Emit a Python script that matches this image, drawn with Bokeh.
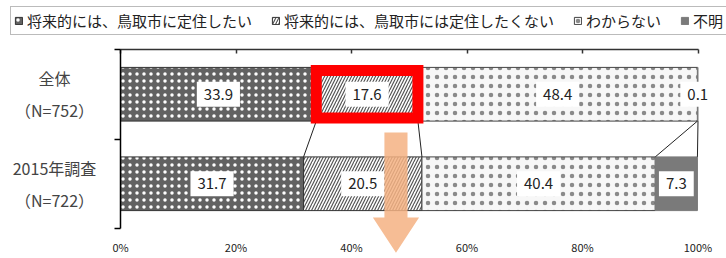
import numpy as np
from bokeh.plotting import figure
from bokeh.models import (ColumnDataSource, Range1d, LinearAxis, FixedTicker,
                          Legend, LegendItem)
from bokeh.core.properties import value
from bokeh.embed import file_html
from bokeh.resources import INLINE

# ---------------- data ----------------
categories = ["全体", "2015年調査"]
sample_sizes = ["（N=752）", "（N=722）"]
series_names = ["将来的には、鳥取市に定住したい",
                "将来的には、鳥取市には定住したくない",
                "わからない",
                "不明"]
settle = [33.9, 31.7]
not_settle = [17.6, 20.5]
unknown = [48.4, 40.4]
no_answer = [0.1, 7.3]
x_ticks = [0, 20, 40, 60, 80, 100]
x_tick_labels = ["0%", "20%", "40%", "60%", "80%", "100%"]
highlight_series = 1          # the 17.6 segment of 全体 is highlighted
highlight_category = 0
arrow_x = 47.7                # where the orange arrow points down

FONT = "Noto Sans CJK JP"

# ---------------- layout calibration (pixels) ----------------
W, H = 726, 258
PX_X0, PX_X100 = 120, 697.5      # x = 0 % and 100 %
PX_YTOP, PX_YBOT = 49, 228       # top / bottom of category band
n_cat = len(categories)
sx = (PX_X100 - PX_X0) / 100.0
sy = (PX_YBOT - PX_YTOP) / n_cat
x_range = Range1d(-PX_X0 / sx, (W - PX_X0) / sx)
y_range = Range1d(-(H - PX_YBOT) / sy, n_cat + PX_YTOP / sy)

y_vals = [n_cat - i - 0.5 for i in range(n_cat)]

p = figure(width=W, height=H, x_range=x_range, y_range=y_range,
           x_axis_type=None, y_axis_type=None, output_backend="svg",
           toolbar_location=None, min_border=0)
p.outline_line_color = None
p.background_fill_color = "white"
p.border_fill_color = "white"

stack = np.array([settle, not_settle, unknown, no_answer])
rights = np.cumsum(stack, axis=0)
lefts = rights - stack

styles = [
    dict(fill_color="#626262", hatch_pattern=".", hatch_color="white",
         hatch_scale=7, hatch_weight=1.5, line_color="#333333"),
    dict(fill_color="white", hatch_pattern="/", hatch_color="#555555",
         hatch_scale=6, hatch_weight=1.2, line_color="#333333"),
    dict(fill_color="#f7f7f7", hatch_pattern=".", hatch_color="#8a8a8a",
         hatch_scale=9, hatch_weight=0.9, line_color="#444444"),
    dict(fill_color="#7a7a7a", line_color="#7a7a7a"),
]

renderers = []
for k in range(len(series_names)):
    src = ColumnDataSource(dict(y=y_vals, left=lefts[k], right=rights[k]))
    r = p.hbar(y="y", left="left", right="right", height=0.6, source=src,
               line_width=1, **styles[k])
    renderers.append(r)

# series connector lines
half = 0.3
seg = ColumnDataSource(dict(x0=rights[:, 0], y0=[y_vals[0] - half] * len(series_names),
                            x1=rights[:, 1], y1=[y_vals[1] + half] * len(series_names)))
p.segment(x0="x0", y0="y0", x1="x1", y1="y1", source=seg, line_color="#222222", line_width=1)

# value labels
lab = ColumnDataSource(dict(
    x=((lefts + rights) / 2).ravel(),
    y=np.tile(y_vals, len(series_names)),
    text=[f"{v:.1f}" for v in stack.ravel()]))
p.text(x="x", y="y", text="text", source=lab, text_align="center",
       text_baseline="middle", text_font=value(FONT), text_font_size="15px",
       text_color="#222222", background_fill_color="white", padding=7)

# red highlight box
hl = ColumnDataSource(dict(
    left=[lefts[highlight_series][highlight_category]],
    right=[rights[highlight_series][highlight_category]],
    bottom=[y_vals[highlight_category] - 0.265],
    top=[y_vals[highlight_category] + 0.265]))
p.quad(left="left", right="right", bottom="bottom", top="top", source=hl,
       fill_color=None, line_color="#ff0000", line_width=11, line_join="miter")

# orange arrow
sw, hw = 2.0, 4.0
y_top, y_head, y_tip = 1.073, 0.123, -0.27
p.patch(x=[arrow_x - sw, arrow_x + sw, arrow_x + sw, arrow_x + hw, arrow_x, arrow_x - hw, arrow_x - sw],
        y=[y_top, y_top, y_head, y_head, y_tip, y_head, y_head],
        fill_color="#f4b183", fill_alpha=0.85, line_color=None)

# category labels (two centred lines)
cat_src = ColumnDataSource(dict(x=[0] * n_cat, y=y_vals,
                                text=[f"{c}\n{n}" for c, n in zip(categories, sample_sizes)]))
p.text(x="x", y="y", text="text", source=cat_src, x_offset=-66, text_align="center",
       text_baseline="middle", text_font=value(FONT), text_font_size="16px",
       text_color="#444444", text_line_height=1.35)

# axes
top_axis = LinearAxis(ticker=FixedTicker(ticks=x_ticks), bounds=(0, 100), fixed_location=n_cat,
                      major_tick_in=4, major_tick_out=0, minor_tick_line_color=None,
                      major_label_text_font_size="0px", major_label_text_color=None,
                      axis_line_color="#333333", axis_line_width=1.5,
                      major_tick_line_color="#333333", major_tick_line_width=1.5)
p.add_layout(top_axis, "above")

bottom_axis = LinearAxis(ticker=FixedTicker(ticks=x_ticks), fixed_location=0,
                         major_label_overrides={t: l for t, l in zip(x_ticks, x_tick_labels)},
                         axis_line_color=None, major_tick_line_color=None,
                         minor_tick_line_color=None, major_tick_out=0, major_tick_in=0,
                         major_label_standoff=10, major_label_text_font_size="11px",
                         major_label_text_font=FONT, major_label_text_color="#222222")
p.add_layout(bottom_axis, "below")

left_axis = LinearAxis(
    ticker=FixedTicker(ticks=[], minor_ticks=list(range(n_cat + 1))),
    bounds=(0, n_cat), fixed_location=0,
    major_tick_out=0, major_tick_in=0, minor_tick_out=6, minor_tick_in=0,
    minor_tick_line_color="black", minor_tick_line_width=1.5,
    axis_line_color="black", axis_line_width=1.5,
    major_label_text_font_size="0px", major_label_text_color=None)
p.add_layout(left_axis, "left")

# legend
legend = Legend(items=[LegendItem(label=n, renderers=[r]) for n, r in zip(series_names, renderers)],
                orientation="horizontal", location=(10, H - 35), padding=3, spacing=19,
                label_standoff=4, glyph_width=9, glyph_height=9, label_height=15,
                label_text_font_size="15px", label_text_font=FONT,
                label_text_color="#222222", border_line_color="#777777",
                border_line_width=1.5, background_fill_color="white", margin=0)
p.add_layout(legend, "center")

open("out.html", "w").write(file_html(p, INLINE))
